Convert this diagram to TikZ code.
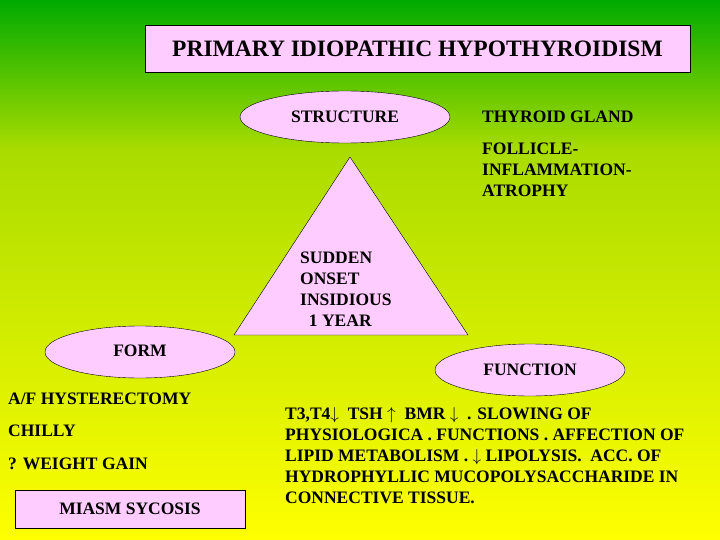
\documentclass[tikz,border=0pt]{standalone}
\usepackage{fontspec}
\setmainfont{Liberation Serif}
\usetikzlibrary{shapes.geometric}
\definecolor{pinkf}{RGB}{255,204,255}
\definecolor{topg}{RGB}{0,170,0}
\definecolor{midg}{RGB}{170,220,0}
\begin{document}
\begin{tikzpicture}[x=1pt,y=-1pt,
  txt/.style={font=\fontsize{17.5}{21}\selectfont\bfseries,inner sep=0pt},
  ell/.style={ellipse,draw,fill=pinkf,minimum width=#1,minimum height=52pt,inner sep=0pt},
  box/.style={draw,fill=pinkf,inner sep=0pt}]
\shade[top color=topg,bottom color=midg] (0,0) rectangle (720,150.5);
\shade[top color=midg,middle color=yellow,bottom color=yellow] (0,150) rectangle (720,540);
\useasboundingbox (0,0) rectangle (720,540);
\node[box,minimum width=545pt,minimum height=47pt,font=\fontsize{23.5}{26}\selectfont\bfseries] (title) at (417.5,48.5) {PRIMARY IDIOPATHIC HYPOTHYROIDISM};
\node[ell=210pt,txt] (struct) at (345,117) {STRUCTURE};
\node[ell=190pt,txt] (form) at (140,352) {\raisebox{2pt}{FORM}};
\node[ell=190pt,txt] (func) at (530,370) {FUNCTION};
\draw[fill=pinkf] (350,157) coordinate (apex) -- (468,335) coordinate (br) -- (234,335) coordinate (bl) -- cycle;
\node[txt,anchor=west] (thy) at (482,117) {THYROID GLAND};
\node[txt,anchor=north west,align=left] (foll) at (482,143) {FOLLICLE-\\INFLAMMATION-\\ATROPHY};
\node[txt,anchor=north west,align=left] (onset) at (300,252) {SUDDEN\\ONSET\\INSIDIOUS\\\ \ 1 YEAR};
\node[txt,anchor=west] (af) at (8,399) {A/F HYSTERECTOMY};
\node[txt,anchor=west] (chilly) at (8,431) {CHILLY};
\node[txt,anchor=west] (wg) at (8,464) {? WEIGHT GAIN};
\node[box,minimum width=230pt,minimum height=38pt,txt] (miasm) at (130,509) {MIASM SYCOSIS};
\node[txt,anchor=north west,align=left] (t3) at (285,407) {T3,T4$\downarrow$ \ TSH $\uparrow$ \ BMR $\downarrow$ \ . SLOWING OF\\PHYSIOLOGICA . FUNCTIONS . AFFECTION OF\\LIPID METABOLISM . $\downarrow$ LIPOLYSIS. \ ACC. OF\\HYDROPHYLLIC MUCOPOLYSACCHARIDE IN\\CONNECTIVE TISSUE.};
\end{tikzpicture}
\end{document}
